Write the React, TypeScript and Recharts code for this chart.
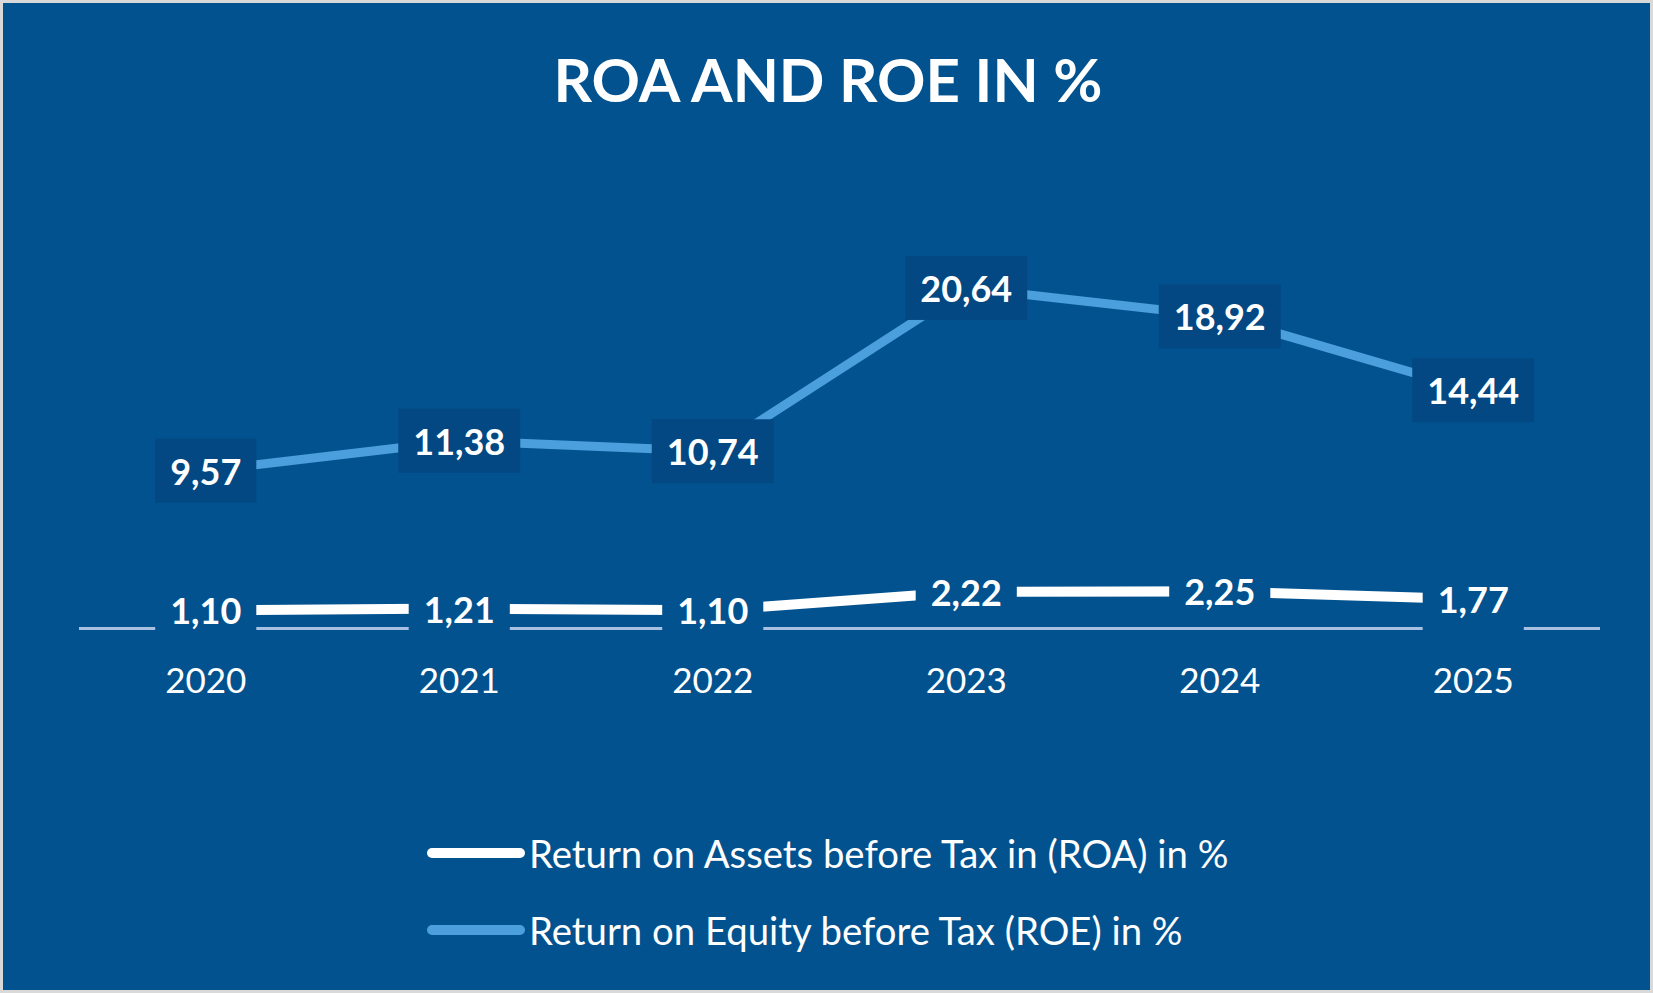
import React from "react";
import { LabelList, Legend, Line, LineChart, XAxis, YAxis } from "recharts";

const years = ["2020", "2021", "2022", "2023", "2024", "2025"];
const roaValues = [1.1, 1.21, 1.1, 2.22, 2.25, 1.77];
const roeValues = [9.57, 11.38, 10.74, 20.64, 18.92, 14.44];
const roaName = "Return on Assets before Tax in (ROA) in %";
const roeName = "Return on Equity before Tax (ROE) in %";

const data = years.map((year, i) => ({ year, roa: roaValues[i], roe: roeValues[i] }));

const BG = "#02528f";
const BOX = "#034882";
const ROE_BLUE = "#4a9fdc";
const AXIS = "#a8c0e2";
const FONT = "Lato, 'Open Sans', sans-serif";

const fmt = (v: number) => v.toFixed(2).replace(".", ",");

function makeTag(fill: string) {
  return function ValueTag(props: any) {
    const { x, y, value } = props;
    if (x == null || y == null || value == null) return null;
    const label = fmt(Number(value));
    const w = label.replace(",", "").length * 20.9 + 9.4 + 29;
    const h = 64;
    return (
      <g>
        <rect x={x - w / 2} y={y - h / 2} width={w} height={h} fill={fill} />
        <text
          x={x}
          y={y}
          textAnchor="middle"
          dominantBaseline="central"
          fill="#ffffff"
          fontFamily={FONT}
          fontWeight={700}
          fontSize={36}
        >
          {label}
        </text>
      </g>
    );
  };
}

function YearTick(props: any) {
  const { x, y, payload } = props;
  return (
    <text
      x={x}
      y={y + 50.5}
      textAnchor="middle"
      dominantBaseline="central"
      fill="#ffffff"
      fontFamily={FONT}
      fontSize={35}
    >
      {payload.value}
    </text>
  );
}

function LegendBox(props: any) {
  const items = props.payload || [];
  return (
    <svg width={900} height={150}>
      {items.map((item: any, i: number) => {
        const cy = 35 + i * 77;
        return (
          <g key={item.value}>
            <line
              x1={14}
              x2={102}
              y1={cy}
              y2={cy}
              stroke={item.color}
              strokeWidth={10}
              strokeLinecap="round"
            />
            <text
              x={111}
              y={cy}
              dominantBaseline="central"
              fill="#ffffff"
              fontFamily={FONT}
              fontSize={38.3}
            >
              {item.value}
            </text>
          </g>
        );
      })}
    </svg>
  );
}

export default function App() {
  return (
    <div
      style={{
        position: "absolute",
        left: 0,
        top: 0,
        width: 1653,
        height: 993,
        boxSizing: "border-box",
        border: "3px solid #d9d9d9",
        background: BG,
      }}
    >
      <svg
        width={1647}
        height={140}
        style={{ position: "absolute", left: 0, top: 0 }}
      >
        <text
          x={825}
          y={99}
          textAnchor="middle"
          fill="#ffffff"
          fontFamily={FONT}
          fontWeight={700}
          fontSize={60}
        >
          ROA AND ROE IN %
        </text>
      </svg>
      <div style={{ position: "absolute", left: 0, top: 0 }}>
        <LineChart
          width={1647}
          height={987}
          data={data}
          margin={{ top: 213, right: 50, bottom: 321.5, left: 76 }}
        >
          <XAxis
            dataKey="year"
            height={40}
            padding={{ left: 126.75, right: 126.75 }}
            axisLine={{ stroke: AXIS, strokeWidth: 3 }}
            tickLine={false}
            tickSize={0}
            tickMargin={0}
            tick={<YearTick />}
            interval={0}
          />
          <YAxis hide domain={[0, 25]} />
          <Legend
            layout="vertical"
            align="center"
            verticalAlign="middle"
            wrapperStyle={{ left: 415, top: 815, width: 900, height: 150 }}
            content={<LegendBox />}
          />
          <Line
            name={roaName}
            dataKey="roa"
            stroke="#ffffff"
            strokeWidth={10}
            dot={false}
            activeDot={false}
            isAnimationActive={false}
          >
            <LabelList dataKey="roa" content={makeTag(BG)} />
          </Line>
          <Line
            name={roeName}
            dataKey="roe"
            stroke={ROE_BLUE}
            strokeWidth={9}
            dot={false}
            activeDot={false}
            isAnimationActive={false}
          >
            <LabelList dataKey="roe" content={makeTag(BOX)} />
          </Line>
        </LineChart>
      </div>
    </div>
  );
}
